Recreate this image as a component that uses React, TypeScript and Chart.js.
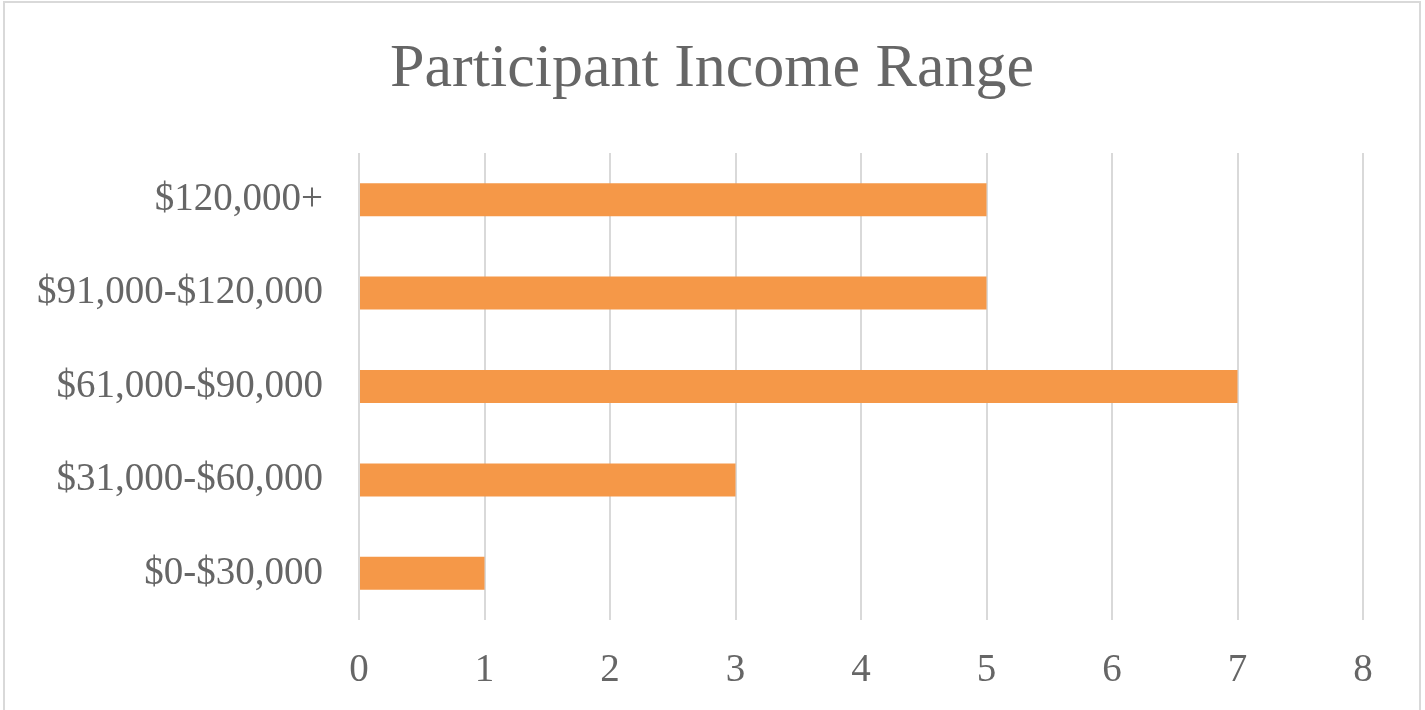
import { useEffect, useRef } from 'react'
import Chart from 'chart.js/auto'

const categories = ['$0-$30,000', '$31,000-$60,000', '$61,000-$90,000', '$91,000-$120,000', '$120,000+']
const participants = [1, 3, 7, 5, 5]
const xTicks = [0, 1, 2, 3, 4, 5, 6, 7, 8]

const FONT = '"Liberation Serif", "DejaVu Serif", serif'
const TEXT = '#666666'

export default function App(){
  const ref = useRef<HTMLCanvasElement|null>(null)
  useEffect(()=>{
    if(!ref.current) return
    const chart = new Chart(ref.current, {
      type: 'bar',
      data: {
        // top of chart shows the last category
        labels: [...categories].reverse(),
        datasets: [{
          label: 'Participants',
          data: [...participants].reverse(),
          backgroundColor: '#F59848',
          barPercentage: 0.353,
          categoryPercentage: 1,
        }]
      },
      options: {
        indexAxis: 'y',
        animation: false,
        responsive: false,
        devicePixelRatio: 1,
        layout: { padding: 0 },
        plugins: {
          legend: { display: false },
          tooltip: { enabled: false },
          title: {
            display: true,
            text: 'Participant Income Range',
            color: TEXT,
            font: { family: FONT, size: 62, weight: 'normal', lineHeight: 1.2 },
            padding: { top: 30, bottom: 45.6 },
          },
        },
        scales: {
          x: {
            min: 0,
            max: xTicks[xTicks.length - 1],
            afterBuildTicks: (s:any)=>{ s.ticks = xTicks.map(v=>({ value: v })) },
            afterFit: (s:any)=>{ s.height = 91 },
            grid: { color: '#d9d9d9', lineWidth: 2, drawTicks: false },
            border: { display: false },
            ticks: { color: TEXT, padding: 27, font: { family: FONT, size: 39 } },
          },
          y: {
            afterFit: (s:any)=>{ s.width = 354 },
            grid: { display: false, drawTicks: false },
            border: { display: false },
            ticks: { color: TEXT, padding: 36, font: { family: FONT, size: 39 } },
          },
          // empty right-hand axis: keeps the plot's right margin without shifting the title
          yRight: {
            type: 'linear',
            axis: 'y',
            position: 'right',
            afterFit: (s:any)=>{ s.width = 56 },
            grid: { display: false, drawTicks: false },
            border: { display: false },
            ticks: { display: false },
          },
        },
      },
    })
    return ()=> chart.destroy()
  }, [])
  return (
    <div style={{ position:'absolute', left:3, top:1, width:1418, height:712, border:'2px solid #d9d9d9', boxSizing:'border-box', background:'#fff' }}>
      <canvas ref={ref} width={1414} height={708} style={{ display:'block' }}/>
    </div>
  )
}
